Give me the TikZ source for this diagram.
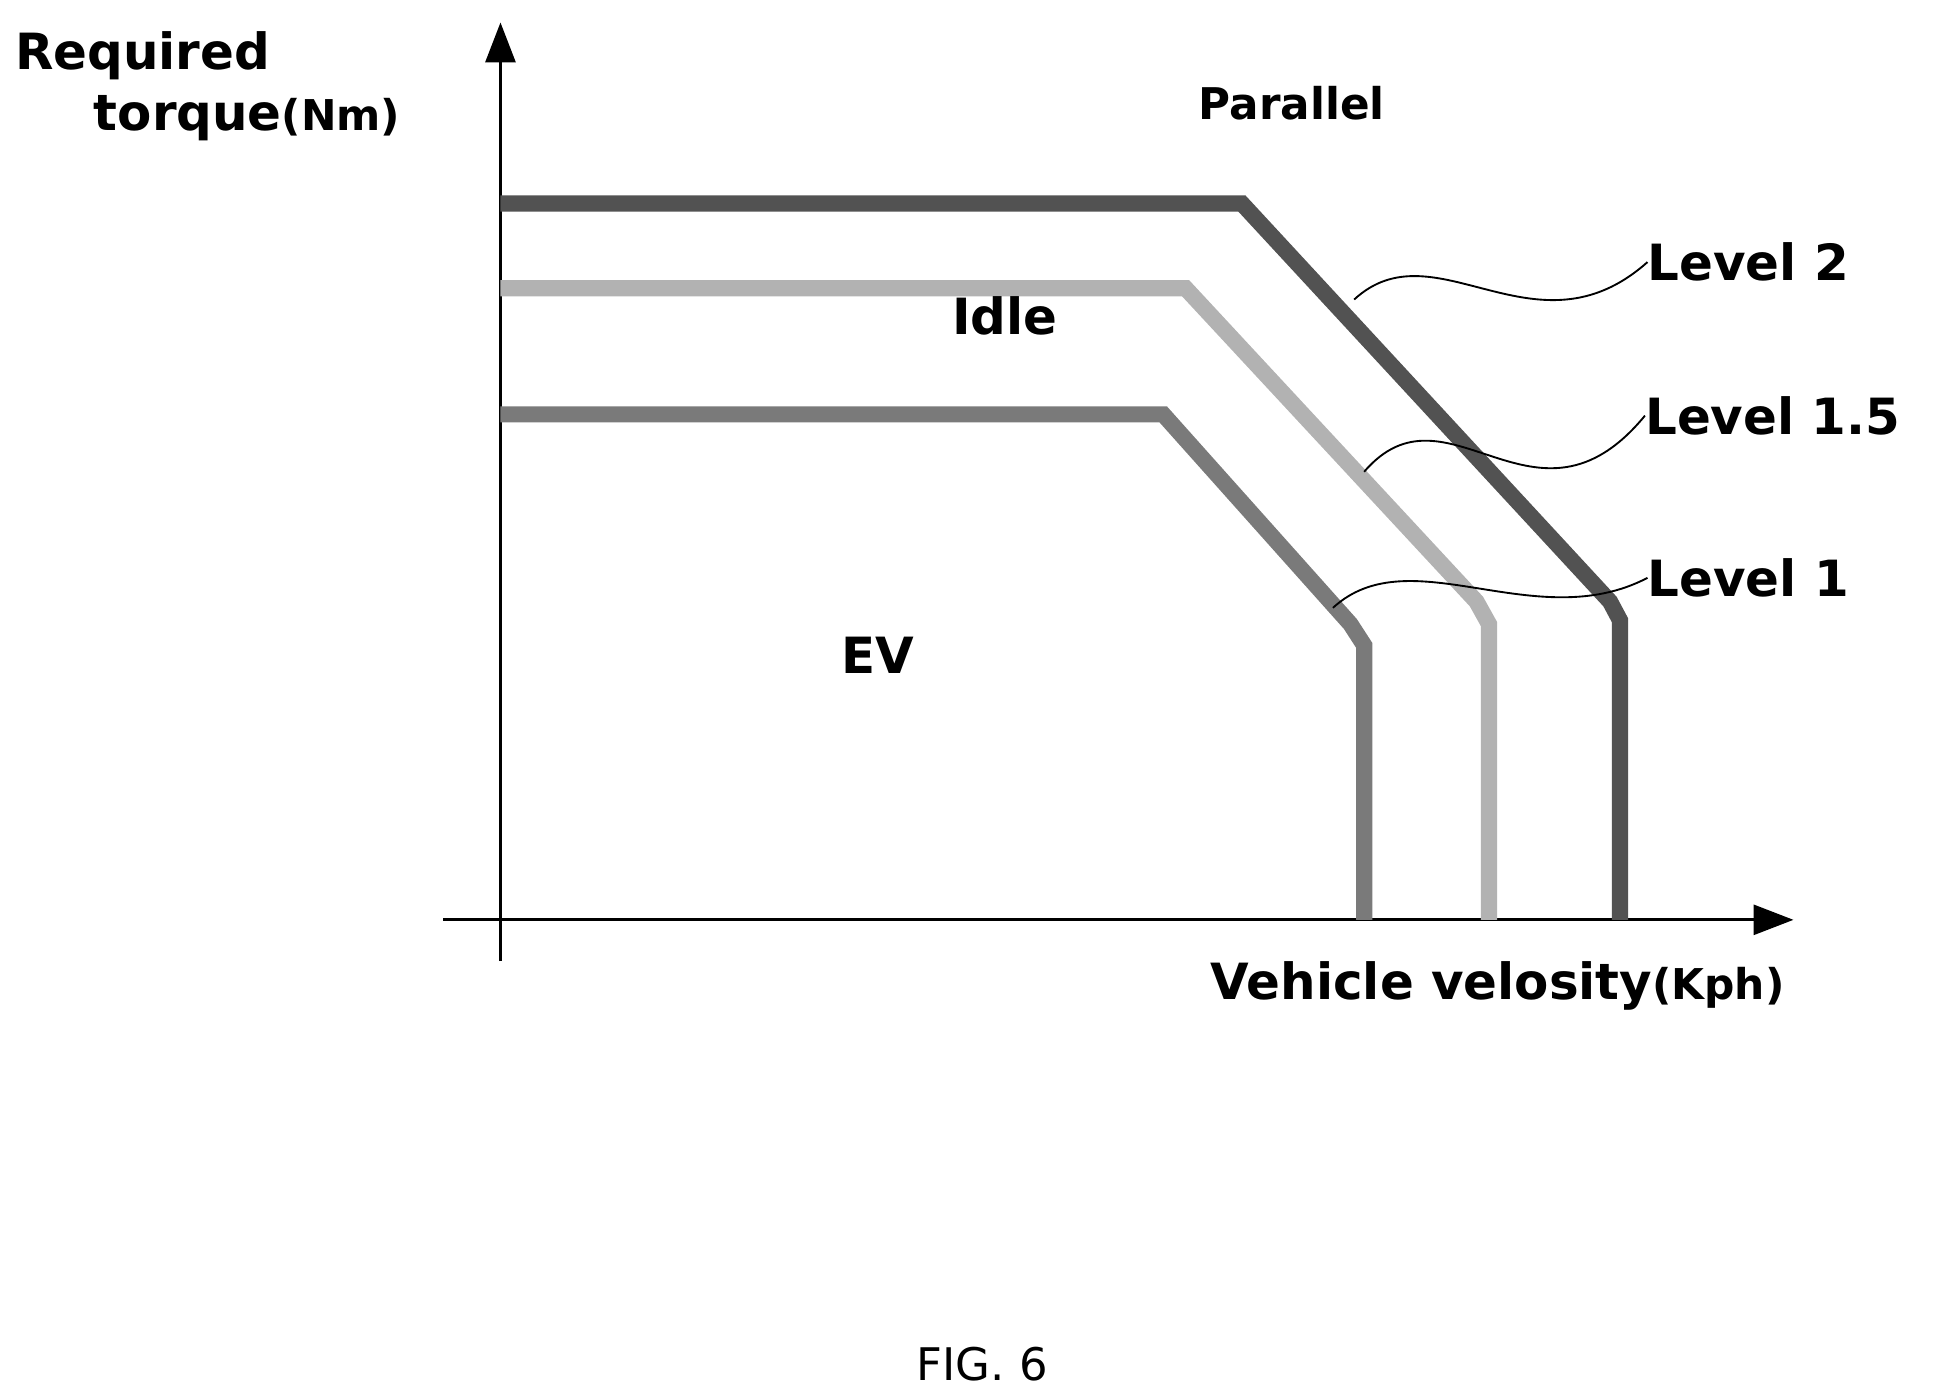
\documentclass[tikz,border=0pt]{standalone}
\usepackage{fontspec}
\setmainfont{DejaVu Sans}
\usetikzlibrary{arrows.meta}
\begin{document}
\begin{tikzpicture}[x=1pt,y=-1pt,
  lbl/.style={font=\fontsize{40}{44}\selectfont\bfseries,inner sep=0pt},
  curve/.style={line width=13pt,line join=miter},
  lead/.style={line width=1.5pt},
  ax/.style={line width=2.5pt,-{Triangle[length=32pt,width=24pt]}}]
\useasboundingbox (0,0) rectangle (1552,1117);
\coordinate (yb) at (401,770); \coordinate (yt) at (401,18);
\coordinate (xl) at (355,737); \coordinate (xr) at (1437,737);
\draw[ax] (yb) -- (yt);
\draw[ax] (xl) -- (xr);
\draw[curve,color=black!68] (401,163)--(995,163)--(1290,482)--(1298,497)--(1298,737);
\draw[curve,color=black!30] (401,231)--(950,231)--(1183,482)--(1193,500)--(1193,737);
\draw[curve,color=black!52] (401,332)--(932,332)--(1082,500)--(1093,517)--(1093,737);
\node[lbl,anchor=west] (l2) at (1320,210) {Level 2};
\node[lbl,anchor=west] (l15) at (1318,333) {Level 1.5};
\node[lbl,anchor=west] (l1) at (1320,463) {Level 1};
\coordinate (c2) at (1085,240);
\coordinate (c15) at (1093,378);
\coordinate (c1) at (1068,487);
\draw[lead] (c2) .. controls (1150,180) and (1230,290) .. (l2.west);
\draw[lead] (c15) .. controls (1160,300) and (1230,440) .. (l15.west);
\draw[lead] (c1) .. controls (1130,430) and (1230,510) .. (l1.west);
\node[lbl,font=\fontsize{35}{40}\selectfont\bfseries] (par) at (1035,83) {Parallel};
\node[lbl] (idle) at (805,253) {Idle};
\node[lbl] (ev) at (703,525) {EV};
\node[lbl,anchor=west] (rq) at (12,45) {Required};
\node[lbl,anchor=west] (tq) at (75,95) {torque\fontsize{34}{40}\selectfont(Nm)};
\node[lbl,anchor=west] (vv) at (970,790) {Vehicle velosity\fontsize{34}{40}\selectfont(Kph)};
\node[font=\fontsize{36}{40}\selectfont,inner sep=0pt] (fig) at (787,1093) {FIG. 6};
\end{tikzpicture}
\end{document}
